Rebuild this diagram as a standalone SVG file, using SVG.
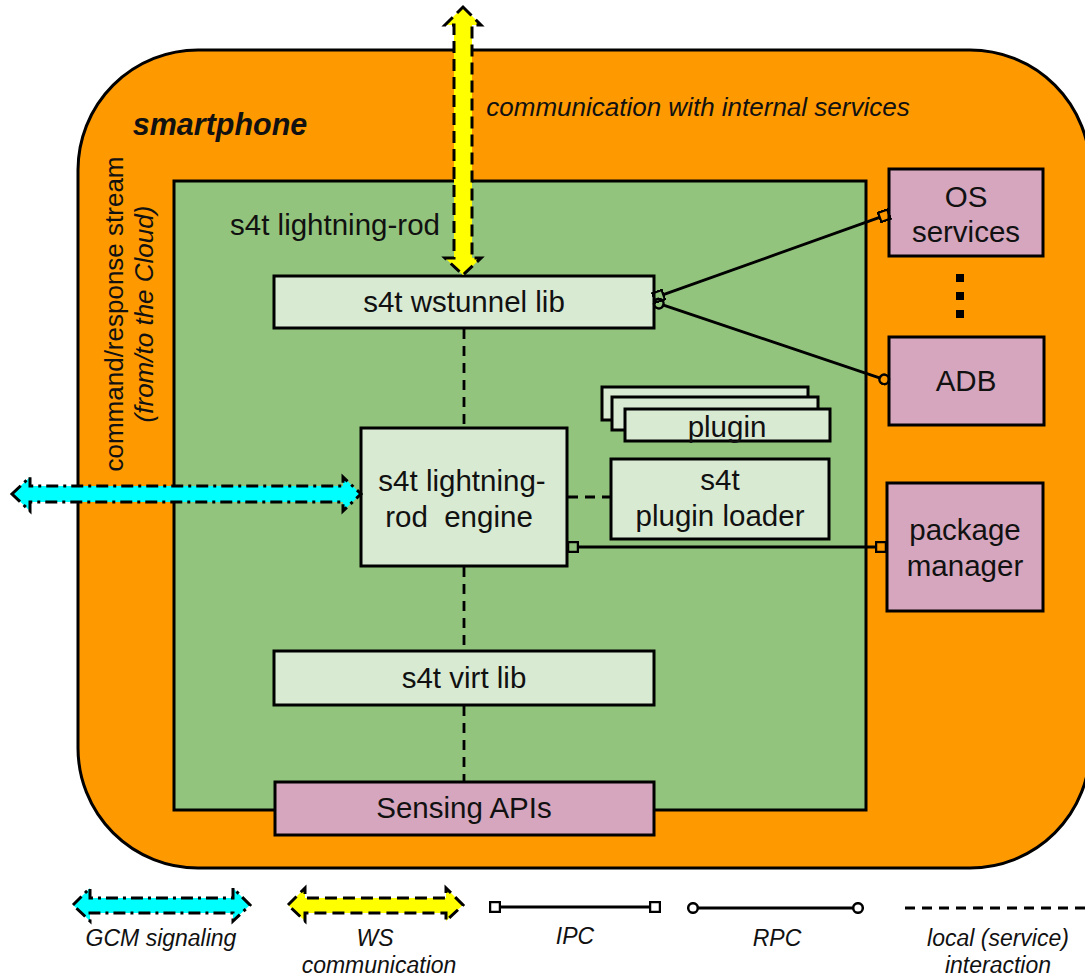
<svg xmlns="http://www.w3.org/2000/svg" width="1085" height="979" viewBox="0 0 1085 979">
<style>
.t{font-family:"Liberation Sans",Arial,sans-serif;fill:#111;text-anchor:middle}
.lbl{font-size:29.5px}
.it{font-style:italic}
.leg{font-size:23px;font-style:italic}
.box{fill:#d9ead3;stroke:#000;stroke-width:3}
.ext{fill:#d5a6bd;stroke:#000;stroke-width:3}
.ln{stroke:#000;stroke-width:2.8;fill:none}
.dash{stroke:#000;stroke-width:2.8;stroke-dasharray:10 7;fill:none}
.ws{fill:#ffff00;stroke:#000;stroke-width:3;stroke-dasharray:12 6}
.gcm{fill:#00ffff;stroke:#000;stroke-width:3;stroke-dasharray:12 5 3 5}
</style>
<defs>
<marker id="sq" viewBox="0 0 12 12" refX="1" refY="6" markerWidth="12" markerHeight="12" markerUnits="userSpaceOnUse" orient="auto-start-reverse">
<rect x="1" y="1" width="10" height="10" fill="none" stroke="#000" stroke-width="2.5"/>
</marker>
<marker id="ci" viewBox="0 0 12 12" refX="1" refY="6" markerWidth="12" markerHeight="12" markerUnits="userSpaceOnUse" orient="auto-start-reverse">
<circle cx="6" cy="6" r="4.8" fill="none" stroke="#000" stroke-width="2.5"/>
</marker>
</defs>
<rect width="1085" height="979" fill="#fff"/>
<g id="smartphone">
<rect x="78" y="50" width="1012" height="818" rx="120" ry="120" fill="#ff9900" stroke="#000" stroke-width="3"/>
<text class="t" x="220" y="135" style="font-size:30.5px;font-weight:bold;font-style:italic">smartphone</text>
<text class="t it" x="698" y="116" style="font-size:26px">communication with internal services</text>
<text class="t" transform="translate(123,314) rotate(-90)" style="font-size:26px">command/response stream</text>
<text class="t it" transform="translate(153,314) rotate(-90)" style="font-size:26px">(from/to the Cloud)</text>
</g>
<g id="lightning-rod">
<rect x="174" y="181" width="692" height="629" fill="#93c47d" stroke="#000" stroke-width="3"/>
<text class="t lbl" x="335" y="235">s4t lightning-rod</text>
</g>
<g id="wstunnel">
<rect class="box" x="274" y="276" width="380" height="52"/>
<text class="t lbl" x="464" y="312">s4t wstunnel lib</text>
</g>
<g id="engine">
<rect class="box" x="361" y="428" width="206" height="138"/>
<text class="t lbl" x="462" y="491">s4t lightning-</text>
<text class="t lbl" x="459" y="527" xml:space="preserve">rod  engine</text>
</g>
<g id="plugins">
<rect class="box" x="602" y="387" width="206" height="33"/>
<rect class="box" x="612" y="397" width="206" height="33"/>
<rect class="box" x="625" y="409" width="205" height="32"/>
<text class="t lbl" x="727" y="437">plugin</text>
</g>
<g id="plugin-loader">
<rect class="box" x="611" y="459" width="218" height="80"/>
<text class="t lbl" x="720" y="490">s4t</text>
<text class="t lbl" x="720" y="526">plugin loader</text>
</g>
<g id="virt-lib">
<rect class="box" x="274" y="651" width="380" height="54"/>
<text class="t lbl" x="464" y="688">s4t virt lib</text>
</g>
<g id="sensing-apis">
<rect class="ext" x="275" y="782" width="379" height="53"/>
<text class="t lbl" x="464" y="818">Sensing APIs</text>
</g>
<g id="os-services">
<rect class="ext" x="889" y="169" width="154" height="87"/>
<text class="t lbl" x="966" y="207">OS</text>
<text class="t lbl" x="966" y="242">services</text>
</g>
<g id="ellipsis">
<rect x="956" y="274" width="8" height="8" fill="#000"/>
<rect x="956" y="292" width="8" height="8" fill="#000"/>
<rect x="956" y="310" width="8" height="8" fill="#000"/>
</g>
<g id="adb">
<rect class="ext" x="889" y="337" width="155" height="88"/>
<text class="t lbl" x="966" y="391">ADB</text>
</g>
<g id="package-manager">
<rect class="ext" x="887" y="483" width="156" height="128"/>
<text class="t lbl" x="965" y="540">package</text>
<text class="t lbl" x="965" y="576">manager</text>
</g>
<g id="connectors">
<line class="dash" x1="464" y1="329" x2="464" y2="427"/>
<line class="dash" x1="464" y1="567" x2="464" y2="650"/>
<line class="dash" x1="464" y1="706" x2="464" y2="781"/>
<line class="dash" x1="568" y1="497" x2="610" y2="497"/>
<line class="ln" x1="578" y1="547" x2="876" y2="547" marker-start="url(#sq)" marker-end="url(#sq)"/>
<line class="ln" x1="663.4" y1="294.6" x2="879.6" y2="217.4" marker-start="url(#sq)" marker-end="url(#sq)"/>
<line class="ln" x1="663.5" y1="305.2" x2="879.5" y2="377.8" marker-start="url(#ci)" marker-end="url(#ci)"/>
<polygon class="ws" points="463,7 481,25 472,25 472,258 481,258 463,275 445,258 454,258 454,25 445,25"/>
<polygon class="gcm" points="12,494 30,477 30,486 343,486 343,477 361,494 343,511 343,502 30,502 30,511"/>
</g>
<g id="legend">
<polygon class="gcm" points="73,905 90,888 90,898 233,898 233,888 250,905 233,921 233,913 90,913 90,921"/>
<text class="t leg" x="161" y="946">GCM signaling</text>
<polygon class="ws" points="288,905 305,888 305,898 446,898 446,888 463,905 446,921 446,913 305,913 305,921"/>
<text class="t leg" x="375" y="946">WS</text>
<text class="t leg" x="379" y="973">communication</text>
<line class="ln" x1="500" y1="907" x2="650" y2="907" marker-start="url(#sq)" marker-end="url(#sq)"/>
<text class="t leg" x="575" y="944">IPC</text>
<line class="ln" x1="698" y1="908" x2="853" y2="908" marker-start="url(#ci)" marker-end="url(#ci)"/>
<text class="t leg" x="777" y="946">RPC</text>
<line class="dash" x1="905" y1="908" x2="1085" y2="908"/>
<text class="t leg" x="998" y="946">local (service)</text>
<text class="t leg" x="998" y="973">interaction</text>
</g>
</svg>
